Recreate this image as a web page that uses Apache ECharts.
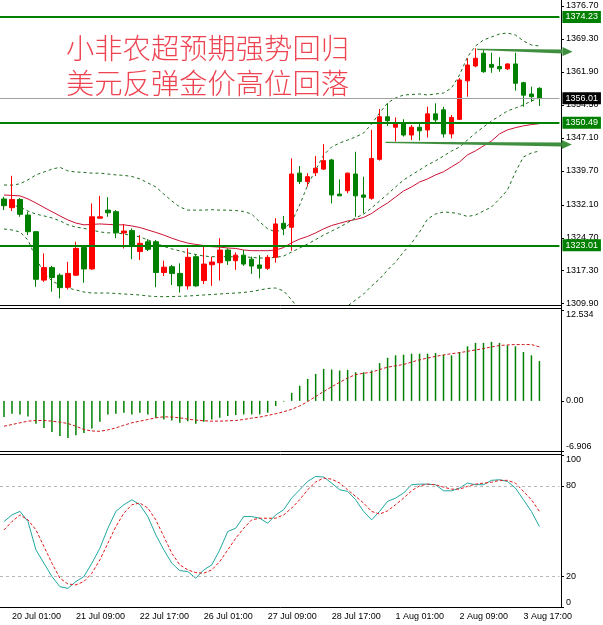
<!DOCTYPE html>
<html>
<head>
<meta charset="utf-8">
<script src="https://cdn.jsdelivr.net/npm/echarts@6/dist/echarts.min.js"></script>
<style>html,body{margin:0;padding:0;background:#fff;}#c{width:603px;height:625px;}</style>
</head>
<body>
<div id="c"></div>
<script>
const titleLines = ['小非农超预期强势回归', '美元反弹金价高位回落'];
const categories = [
'19 Jul 21:00',
'20 Jul 01:00','20 Jul 05:00','20 Jul 09:00','20 Jul 13:00','20 Jul 17:00','20 Jul 21:00',
'21 Jul 01:00','21 Jul 05:00','21 Jul 09:00','21 Jul 13:00','21 Jul 17:00','21 Jul 21:00',
'22 Jul 01:00','22 Jul 05:00','22 Jul 09:00','22 Jul 13:00','22 Jul 17:00','22 Jul 21:00',
'25 Jul 01:00','25 Jul 05:00','25 Jul 09:00','25 Jul 13:00','25 Jul 17:00','25 Jul 21:00',
'26 Jul 01:00','26 Jul 05:00','26 Jul 09:00','26 Jul 13:00','26 Jul 17:00','26 Jul 21:00',
'27 Jul 01:00','27 Jul 05:00','27 Jul 09:00','27 Jul 13:00','27 Jul 17:00','27 Jul 21:00',
'28 Jul 01:00','28 Jul 05:00','28 Jul 09:00','28 Jul 13:00','28 Jul 17:00','28 Jul 21:00',
'29 Jul 01:00','29 Jul 05:00','29 Jul 09:00','29 Jul 13:00','29 Jul 17:00','29 Jul 21:00',
'1 Aug 01:00','1 Aug 05:00','1 Aug 09:00','1 Aug 13:00','1 Aug 17:00','1 Aug 21:00',
'2 Aug 01:00','2 Aug 05:00','2 Aug 09:00','2 Aug 13:00','2 Aug 17:00','2 Aug 21:00',
'3 Aug 01:00','3 Aug 05:00','3 Aug 09:00','3 Aug 13:00','3 Aug 17:00','3 Aug 21:00',
'4 Aug 01:00'];
const xTickLabels = ['20 Jul 01:00','21 Jul 09:00','22 Jul 17:00','26 Jul 01:00','27 Jul 09:00','28 Jul 17:00','1 Aug 01:00','2 Aug 09:00','3 Aug 17:00'];

const openP = [1333.4,1331.45,1333.3,1329.8,1326.06,1315.2,1318.0,1316.3,1313.6,1316.3,
1322.5,1317.7,1329.1,1330.9,1330.55,1325.77,1326.3,1321.6,1323.8,1323.8,
1316.9,1318.2,1316.7,1313.9,1320.45,1315.1,1318.65,1319.1,1321.95,1319.55,
1320.8,1319.9,1318.6,1317.85,1320.3,1327.95,1327.05,1339.2,1337.3,1339.3,
1340.1,1342.15,1334.5,1335.25,1339.0,1334.3,1333.55,1342.3,1351.85,1349.5,
1350.5,1347.75,1349.5,1348.9,1352.5,1353.4,1348.0,1351.27,1359.9,1363.24,
1366.1,1363.6,1363.1,1362.6,1363.7,1359.5,1356.95,1358.23];
const highP = [1333.9,1338.6,1333.6,1330.55,1326.2,1321.2,1318.4,1316.7,1319.3,1323.8,
1323.1,1332.4,1334.1,1333.8,1330.9,1327.8,1326.8,1325.3,1324.4,1324.2,
1319.55,1318.6,1318.97,1322.3,1321.0,1322.85,1320.45,1324.6,1322.3,1321.4,
1321.95,1320.45,1320.8,1320.8,1329.1,1329.6,1342.5,1340.8,1339.2,1343.05,
1345.7,1342.4,1337.8,1339.3,1344.0,1338.4,1348.9,1353.6,1354.87,1351.7,
1351.3,1350.0,1350.5,1354.1,1354.87,1354.1,1352.25,1360.5,1364.97,1367.2,
1366.8,1366.2,1365.2,1363.84,1366.2,1359.7,1358.6,1358.46];
const lowP = [1330.9,1330.7,1329.4,1325.3,1313.7,1314.8,1312.6,1311.1,1313.1,1316.1,
1314.6,1317.5,1329.05,1329.4,1324.6,1322.3,1319.9,1319.7,1321.7,1313.6,
1316.1,1314.1,1312.4,1313.1,1313.7,1314.3,1313.9,1315.1,1318.6,1317.5,
1318.4,1316.6,1315.6,1317.5,1319.1,1325.3,1321.8,1336.75,1336.2,1338.55,
1339.9,1332.4,1334.1,1334.7,1329.4,1330.2,1333.2,1342.0,1349.8,1346.3,
1347.4,1346.6,1346.5,1347.2,1350.5,1347.2,1347.0,1351.1,1356.35,1362.95,
1361.7,1361.7,1361.96,1362.35,1357.7,1354.1,1355.2,1354.26];
const closeP = [1331.9,1333.3,1329.96,1326.06,1315.38,1318.0,1315.8,1313.5,1316.7,1322.3,
1317.7,1329.4,1329.4,1330.3,1325.8,1326.2,1323.1,1323.45,1322.1,1316.9,
1318.1,1316.7,1313.9,1320.3,1313.9,1318.8,1319.25,1321.95,1319.55,1320.8,
1318.8,1318.35,1317.85,1320.3,1327.8,1326.8,1339.0,1337.3,1338.4,1340.3,
1342.0,1334.3,1334.1,1339.2,1334.1,1333.8,1342.5,1351.85,1350.96,1350.4,
1347.75,1349.5,1348.7,1352.5,1351.15,1348.0,1351.7,1360.1,1363.46,1364.97,
1361.96,1362.95,1362.6,1363.7,1359.36,1356.7,1356.35,1356.01];

const maRed = [1334.3,1334.2,1334.1,1333.4,1332.5,1331.5,1330.55,1329.6,1328.7,1328.0,
1327.6,1327.7,1327.8,1327.7,1327.6,1327.6,1327.35,1327.0,1326.45,1325.9,
1325.3,1324.6,1324.0,1323.5,1323.2,1322.95,1322.7,1322.6,1322.4,1322.3,
1321.95,1321.8,1321.8,1321.8,1321.95,1322.5,1323.6,1324.4,1325.0,1325.8,
1326.7,1327.45,1327.95,1328.45,1328.8,1329.25,1330.15,1331.4,1332.5,1333.85,
1335.2,1336.1,1337.2,1337.9,1338.8,1339.5,1340.6,1341.7,1343.3,1344.2,
1345.3,1346.4,1348.0,1348.9,1349.4,1349.8,1350.1,1350.3];
const bbUpper = [1336.54,1336.5,1336.8,1337.7,1338.8,1339.45,1340.1,1340.5,1339.7,1339.45,
1339.35,1339.2,1339.2,1339.0,1338.8,1338.7,1338.45,1337.9,1337.0,1336.1,
1334.5,1332.95,1331.6,1330.9,1330.9,1330.9,1331.0,1330.9,1330.9,1330.8,
1330.6,1330.0,1328.25,1326.7,1326.0,
1326.67,1328.24,1332.05,1336.54,1339.9,1343.27,1345.06,1345.96,1346.63,1347.31,
1348.2,1350.2,1352.7,1354.94,1356.06,1356.73,1356.84,1356.96,1356.73,1356.96,
1357.18,1358.3,1361.22,1365.26,1367.73,1369.07,1369.74,1370.42,1370.64,1370.19,
1368.85,1367.95,1367.73];
const bbMiddle = [1332.5,1332.05,1331.6,1330.7,1330.0,1329.6,1329.15,1328.5,1327.6,1327.1,
1326.8,1326.45,1326.0,1325.8,1325.8,1325.55,1325.2,1324.9,1324.2,1323.55,
1322.75,1322.2,1321.75,1321.3,1320.95,1320.6,1320.45,1320.45,1320.45,1320.4,
1320.4,1320.3,1320.15,1320.15,1320.3,1320.6,1321.5,1322.4,1323.3,1324.3,
1325.3,1326.2,1327.1,1328.1,1329.15,1330.0,1331.4,1332.95,1334.5,1336.1,
1337.65,1338.8,1339.9,1341.05,1341.95,1343.05,1344.15,1345.05,1346.65,1348.2,
1349.55,1350.9,1352.0,1353.15,1353.8,1354.5,1355.4,1356.05];
const bbLower = [1326.67,1326.44,1326.0,1324.2,1320.16,1316.8,1315.0,1314.1,1313.43,1312.98,
1312.53,1312.3,1312.3,1312.3,1312.2,1312.08,1311.97,1311.86,1311.63,1311.52,
1311.47,1311.52,1311.56,1311.63,1311.74,1311.86,1311.97,1312.08,1312.2,1312.3,
1312.42,1312.65,1312.98,1313.32,1313.43,1312.76,1310.74,1308.5,1307.14,1306.7,
1306.7,1307.14,1308.05,1309.4,1310.74,1312.08,1313.88,1315.45,1317.47,1319.26,
1321.5,1323.52,1326.0,1328.9,1330.03,1330.48,1330.37,1330.03,1329.47,1329.8,
1330.7,1331.6,1333.4,1335.42,1339.45,1342.83,1343.72,1344.17];

const macdHist = [-2.23,-1.77,-1.86,-2.14,-3.16,-3.72,-4.28,-4.84,-5.12,-4.74,
-4.42,-3.81,-2.88,-1.86,-1.77,-1.63,-1.86,-1.63,-1.86,-2.33,
-2.56,-2.70,-3.02,-2.79,-3.16,-2.88,-2.56,-2.33,-2.09,-1.95,
-1.86,-1.86,-1.86,-1.63,-0.70,-0.09,1.12,2.09,3.02,3.72,
4.42,4.33,4.19,4.28,3.95,3.95,4.19,5.21,5.95,6.28,
6.37,6.51,6.51,6.51,6.60,6.37,6.28,6.74,7.53,8.00,
8.00,8.14,8.00,7.67,7.53,6.74,6.28,5.49];
const macdSignal = [-3.49,-3.26,-3.02,-2.79,-2.70,-2.70,-2.79,-2.93,-3.12,-3.49,
-3.95,-4.14,-4.19,-4.00,-3.72,-3.35,-3.02,-2.79,-2.56,-2.33,
-2.19,-2.23,-2.33,-2.51,-2.65,-2.74,-2.79,-2.79,-2.74,-2.70,
-2.56,-2.37,-2.23,-2.00,-1.77,-1.49,-1.16,-0.70,-0.09,0.60,
1.30,1.95,2.56,3.16,3.63,3.81,3.95,4.33,4.65,4.84,
5.02,5.35,5.67,5.91,6.14,6.33,6.51,6.65,6.84,7.02,
7.21,7.44,7.63,7.72,7.77,7.77,7.77,7.44];
const stochK = [56.4,60.8,63.1,56.4,37.7,28.9,20.1,13.4,12.3,16.8,
20.1,28.9,38.8,52.0,63.1,67.5,70.8,67.5,59.7,47.6,
37.7,28.9,24.0,23.4,19.0,24.5,27.8,37.7,49.8,52.0,
59.7,59.7,58.6,55.3,60.8,64.2,71.9,77.4,82.9,86.2,
85.8,81.8,77.4,76.3,70.8,63.1,57.5,63.1,69.7,71.9,
75.2,80.7,81.1,81.1,80.7,76.7,76.7,78.5,81.8,80.7,
80.7,83.6,84.0,82.9,78.5,70.8,63.1,53.1];
const stochD = [50.9,56.4,60.8,57.5,50.9,39.9,28.9,19.0,15.2,14.6,
16.8,22.3,31.1,42.1,53.1,61.9,67.5,68.6,65.3,57.5,
46.5,35.5,27.8,24.5,22.7,22.3,24.5,30.0,37.7,45.4,
52.0,57.5,58.6,58.6,58.6,60.8,65.3,70.8,77.4,82.5,
85.1,84.4,81.8,77.4,73.0,68.6,63.1,61.3,63.5,67.5,
71.9,76.7,80.0,81.1,80.7,79.1,77.8,77.8,79.6,81.1,
81.8,82.3,83.6,83.6,81.8,76.3,70.8,63.1];

const priceTicks = [1309.90,1317.30,1324.70,1332.10,1339.70,1347.10,1354.50,1361.90,1369.30,1376.70];
const macdTicks = [-6.906, 0, 12.534];
const macdTickLabels = ['-6.906', '0.00', '12.534'];
const stochTicks = [0, 20, 80, 100];
const stochLevels = [20, 80];
const levelLines = [1374.23, 1350.49, 1323.01];
const lastPrice = 1356.01;
const arrows = [
  { from: [59.2, 1366.98], to: [71.15, 1366.45] },
  { from: [47.75, 1346.12], to: [71.05, 1345.62] }
];

const GREEN = '#008000', RED = '#ff0000';
const FONT = 'Liberation Sans';
const chart = echarts.init(document.getElementById('c'), null, { renderer: 'canvas' });

const candleData = categories.map((c, i) => [openP[i], closeP[i], lowP[i], highP[i]]);

function xAxisFor(idx, showLabels) {
  return {
    type: 'category', gridIndex: idx, data: categories, max: 69, boundaryGap: true,
    axisLine: { show: false }, axisTick: { show: false }, splitLine: { show: false },
    axisLabel: showLabels ? {
      show: true, interval: (i, v) => xTickLabels.indexOf(v) >= 0,
      align: 'left', margin: 5, fontSize: 9, color: '#000', fontFamily: FONT
    } : { show: false }
  };
}
const labelCommon = { fontSize: 9, color: '#000', fontFamily: FONT, margin: 5 };

const option = {
  animation: false,
  backgroundColor: '#fff',
  title: {
    text: titleLines.join('\n'), left: 61, top: 26,
    textStyle: { color: '#ee4452', fontSize: 28.3, fontFamily: 'Noto Sans CJK SC', fontWeight: 300, lineHeight: 35 }
  },
  grid: [
    { left: -2, width: 561.4, top: 0, height: 305.5 },
    { left: -2, width: 561.4, top: 310, height: 141 },
    { left: -2, width: 561.4, top: 455.5, height: 151.5 }
  ],
  xAxis: [xAxisFor(0, false), xAxisFor(1, false), xAxisFor(2, true)],
  yAxis: [
    {
      type: 'value', gridIndex: 0, position: 'right', offset: 1.6, min: 1309.5, max: 1378.046,
      axisLine: { show: false }, splitLine: { show: false },
      axisTick: { show: true, length: 3, customValues: priceTicks, lineStyle: { color: '#000' } },
      axisLabel: Object.assign({ customValues: priceTicks, formatter: v => v.toFixed(2) }, labelCommon)
    },
    {
      type: 'value', gridIndex: 1, position: 'right', offset: 1.6, min: macdTicks[0], max: macdTicks[2],
      axisLine: { show: false }, splitLine: { show: false },
      axisTick: { show: true, length: 3, customValues: macdTicks, lineStyle: { color: '#000' } },
      axisLabel: Object.assign({
        customValues: macdTicks,
        verticalAlignMinLabel: 'bottom', verticalAlignMaxLabel: 'top',
        formatter: v => {
          let best = 0;
          macdTicks.forEach((t, k) => { if (Math.abs(t - v) < Math.abs(macdTicks[best] - v)) best = k; });
          return macdTickLabels[best];
        }
      }, labelCommon)
    },
    {
      type: 'value', gridIndex: 2, position: 'right', offset: 1.6, min: 0, max: 100,
      axisLine: { show: false }, splitLine: { show: false },
      axisTick: { show: true, length: 3, customValues: stochTicks, lineStyle: { color: '#000' } },
      axisLabel: Object.assign({
        customValues: stochTicks, verticalAlignMinLabel: 'bottom', verticalAlignMaxLabel: 'top',
        formatter: v => String(Math.round(v))
      }, labelCommon)
    }
  ],
  series: [
    {
      type: 'candlestick', xAxisIndex: 0, yAxisIndex: 0, data: candleData, barWidth: 5,
      itemStyle: { color: RED, color0: GREEN, borderColor: RED, borderColor0: GREEN, borderWidth: 1 },
      z: 3,
      markLine: {
        silent: true, symbol: ['none', 'none'], animation: false,
        label: {
          show: true, position: 'end', distance: 3, formatter: p => Number(p.value).toFixed(2),
          color: '#fff', fontSize: 9, fontFamily: FONT, padding: [2, 3, 1, 3]
        },
        data: levelLines.map(v => ({
          yAxis: v, lineStyle: { color: GREEN, width: 2, type: 'solid' },
          label: { backgroundColor: GREEN }
        })).concat([{
          yAxis: lastPrice, lineStyle: { color: '#a0a0a0', width: 1, type: 'solid' },
          label: { backgroundColor: '#000' }
        }])
      }
    },
    { type: 'line', xAxisIndex: 0, yAxisIndex: 0, data: maRed, symbol: 'none', lineStyle: { color: '#cc1133', width: 1 }, z: 2 },
    { type: 'line', xAxisIndex: 0, yAxisIndex: 0, data: bbUpper, symbol: 'none', lineStyle: { color: '#1e6e1e', width: 1, type: [3, 3] }, z: 2 },
    { type: 'line', xAxisIndex: 0, yAxisIndex: 0, data: bbMiddle, symbol: 'none', lineStyle: { color: '#1e6e1e', width: 1, type: [3, 3] }, z: 2 },
    { type: 'line', xAxisIndex: 0, yAxisIndex: 0, data: bbLower, symbol: 'none', lineStyle: { color: '#1e6e1e', width: 1, type: [3, 3] }, z: 2 },
    { type: 'bar', xAxisIndex: 1, yAxisIndex: 1, data: macdHist, barWidth: 1.5, itemStyle: { color: GREEN } },
    { type: 'line', xAxisIndex: 1, yAxisIndex: 1, data: macdSignal, symbol: 'none', lineStyle: { color: '#d01818', width: 1, type: [3, 2] } },
    {
      type: 'line', xAxisIndex: 2, yAxisIndex: 2, data: stochK, symbol: 'none', lineStyle: { color: '#20a8a0', width: 1 },
      markLine: {
        silent: true, symbol: ['none', 'none'], label: { show: false },
        lineStyle: { color: '#b8b8b8', width: 1, type: [3, 3] },
        data: stochLevels.map(v => ({ yAxis: v }))
      }
    },
    { type: 'line', xAxisIndex: 2, yAxisIndex: 2, data: stochD, symbol: 'none', lineStyle: { color: '#e01818', width: 1, type: [3, 2] } }
  ]
};
chart.setOption(option);

function px(i, price) {
  const p0 = chart.convertToPixel({ xAxisIndex: 0, yAxisIndex: 0 }, [0, price]);
  const p1 = chart.convertToPixel({ xAxisIndex: 0, yAxisIndex: 0 }, [1, price]);
  return [p0[0] + i * (p1[0] - p0[0]), p0[1]];
}
const ARROW = '#3f8f3f';
const gfx = [];
[305.5, 308.5, 451.5, 454.5, 607.5].forEach(y => {
  gfx.push({ type: 'line', shape: { x1: 0, y1: y, x2: 561.5, y2: y }, style: { stroke: '#000', lineWidth: 1 }, z: 50 });
});
gfx.push({ type: 'line', shape: { x1: 561.5, y1: 0, x2: 561.5, y2: 607.5 }, style: { stroke: '#000', lineWidth: 1 }, z: 50 });
arrows.forEach(a => {
  const s = px(a.from[0], a.from[1]);
  const e = px(a.to[0], a.to[1]);
  const hl = 10;
  const bx = e[0] - hl;
  const by = s[1] + (e[1] - s[1]) * ((bx - s[0]) / (e[0] - s[0]));
  gfx.push({ type: 'polygon', shape: { points: [[s[0], s[1] - 0.6], [bx, by - 2], [bx, by + 2], [s[0], s[1] + 0.6]] }, style: { fill: ARROW }, z: 60 });
  gfx.push({ type: 'polygon', shape: { points: [[bx, by - 4.5], [e[0], e[1]], [bx, by + 4.5]] }, style: { fill: ARROW }, z: 60 });
});
chart.setOption({ graphic: gfx });
</script>
</body>
</html>
